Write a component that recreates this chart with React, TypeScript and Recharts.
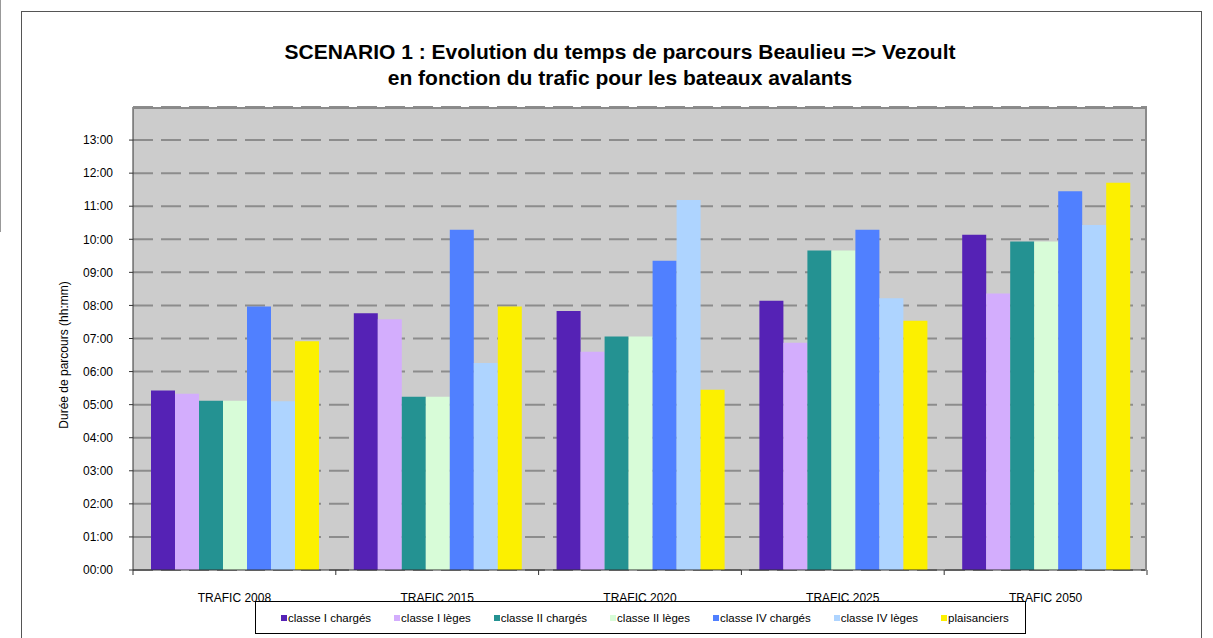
import { BarChart, Bar, XAxis, YAxis, CartesianGrid } from 'recharts';

const categories = ['TRAFIC 2008', 'TRAFIC 2015', 'TRAFIC 2020', 'TRAFIC 2025', 'TRAFIC 2050'];

// durées en heures décimales
const classeICharges = [5.43, 7.76, 7.83, 8.14, 10.14];
const classeILeges = [5.33, 7.58, 6.6, 6.87, 8.36];
const classeIICharges = [5.12, 5.24, 7.06, 9.66, 9.93];
const classeIILeges = [5.12, 5.24, 7.06, 9.66, 9.93];
const classeIVCharges = [7.97, 10.29, 9.35, 10.29, 11.45];
const classeIVLeges = [5.1, 6.26, 11.19, 8.22, 10.43];
const plaisanciers = [6.92, 7.97, 5.45, 7.54, 11.71];

const yTicks = [0, 1, 2, 3, 4, 5, 6, 7, 8, 9, 10, 11, 12, 13];

const series = [
    { key: 'c1c', name: 'classe I chargés', values: classeICharges, color: '#5522b5' },
    { key: 'c1l', name: 'classe I lèges', values: classeILeges, color: '#d3adfd' },
    { key: 'c2c', name: 'classe II chargés', values: classeIICharges, color: '#249292' },
    { key: 'c2l', name: 'classe II lèges', values: classeIILeges, color: '#d8fcd8' },
    { key: 'c4c', name: 'classe IV chargés', values: classeIVCharges, color: '#5080ff' },
    { key: 'c4l', name: 'classe IV lèges', values: classeIVLeges, color: '#aed4ff' },
    { key: 'pl', name: 'plaisanciers', values: plaisanciers, color: '#fcf000' },
];

const data = categories.map((cat, i) => {
    const row: Record<string, string | number> = { cat };
    series.forEach(s => { row[s.key] = s.values[i]; });
    return row;
});

const FONT = '"Liberation Sans", Arial, sans-serif';

const fmtHour = (h: number) => `${String(h).padStart(2, '0')}:00`;

const XTick = (props: any) => {
    const { x, y, payload, index, width, visibleTicksCount } = props;
    const half = (width || 1014) / (visibleTicksCount || 5) / 2;
    const last = index === (visibleTicksCount || 5) - 1;
    return (
        <g>
            <line x1={x - half} y1={y - 8} x2={x - half} y2={y - 3} stroke="#333" />
            {last && <line x1={x + half} y1={y - 8} x2={x + half} y2={y - 3} stroke="#333" />}
            <text x={x} y={y + 24} textAnchor="middle" fontSize={12} fill="#000" fontFamily={FONT}>
                {payload.value}
            </text>
        </g>
    );
};

export default function App() {
    return (
        <div style={{ position: 'absolute', left: 0, top: 0, width: 1213, height: 638, background: '#fff', overflow: 'hidden', fontFamily: FONT }}>
            <div style={{ position: 'absolute', left: 0, top: 0, width: 1, height: 232, background: '#999' }} />
            <div style={{ position: 'absolute', left: 21, top: 11, width: 1179, height: 660, border: '1px solid #555' }} />
            <div style={{ position: 'absolute', left: 0, top: 39, width: 1240, textAlign: 'center', fontWeight: 'bold', fontSize: 21, lineHeight: '26px', color: '#000' }}>
                SCENARIO 1 : Evolution du temps de parcours Beaulieu =&gt; Vezoult<br />
                en fonction du trafic pour les bateaux avalants
            </div>
            <div style={{ position: 'absolute', left: 0, top: 0 }}>
                <BarChart width={1213} height={638} data={data}
                    margin={{ top: 107, right: 66, left: 73, bottom: 38 }}
                    barCategoryGap={18} barGap={0}>
                    <CartesianGrid vertical={false} fill="#cccccc" stroke="#8c8c8c" strokeWidth={2} strokeDasharray="20 8" />
                    <XAxis dataKey="cat" height={30} axisLine={{ stroke: '#333' }} tickLine={false} tick={<XTick />} interval={0} />
                    <YAxis width={60} domain={[0, 14]} ticks={yTicks} interval={0} tickFormatter={fmtHour}
                        axisLine={{ stroke: '#333' }} tickLine={{ stroke: '#333' }} tickSize={4} tickMargin={16}
                        tick={{ fontSize: 12, fill: '#000', fontFamily: FONT }}
                        label={{
                            content: () => (
                                <text x={68} y={355} transform="rotate(-90 68 355)" textAnchor="middle" fontSize={12} fill="#000" fontFamily={FONT}>
                                    Durée de parcours (hh:mm)
                                </text>
                            ),
                        }} />
                    {series.map(s => (
                        <Bar key={s.key} dataKey={s.key} name={s.name} fill={s.color} isAnimationActive={false} />
                    ))}
                </BarChart>
            </div>
            <div style={{ position: 'absolute', left: 133, top: 107, width: 1012, height: 462, borderTop: '2px solid #8a8a8a', borderRight: '2px solid #8a8a8a', pointerEvents: 'none' }} />
            <div style={{ position: 'absolute', left: 255, top: 601, width: 771, height: 33, border: '1px solid #000', background: '#fff', display: 'flex', alignItems: 'center', paddingLeft: 25, boxSizing: 'border-box', fontSize: 11.5, color: '#000', whiteSpace: 'nowrap' }}>
                {series.map(s => (
                    <div key={s.key} style={{ display: 'flex', alignItems: 'center', marginRight: 23 }}>
                        <span style={{ width: 6, height: 6, background: s.color, marginRight: 1, display: 'inline-block' }} />
                        <span>{s.name}</span>
                    </div>
                ))}
            </div>
        </div>
    );
}
